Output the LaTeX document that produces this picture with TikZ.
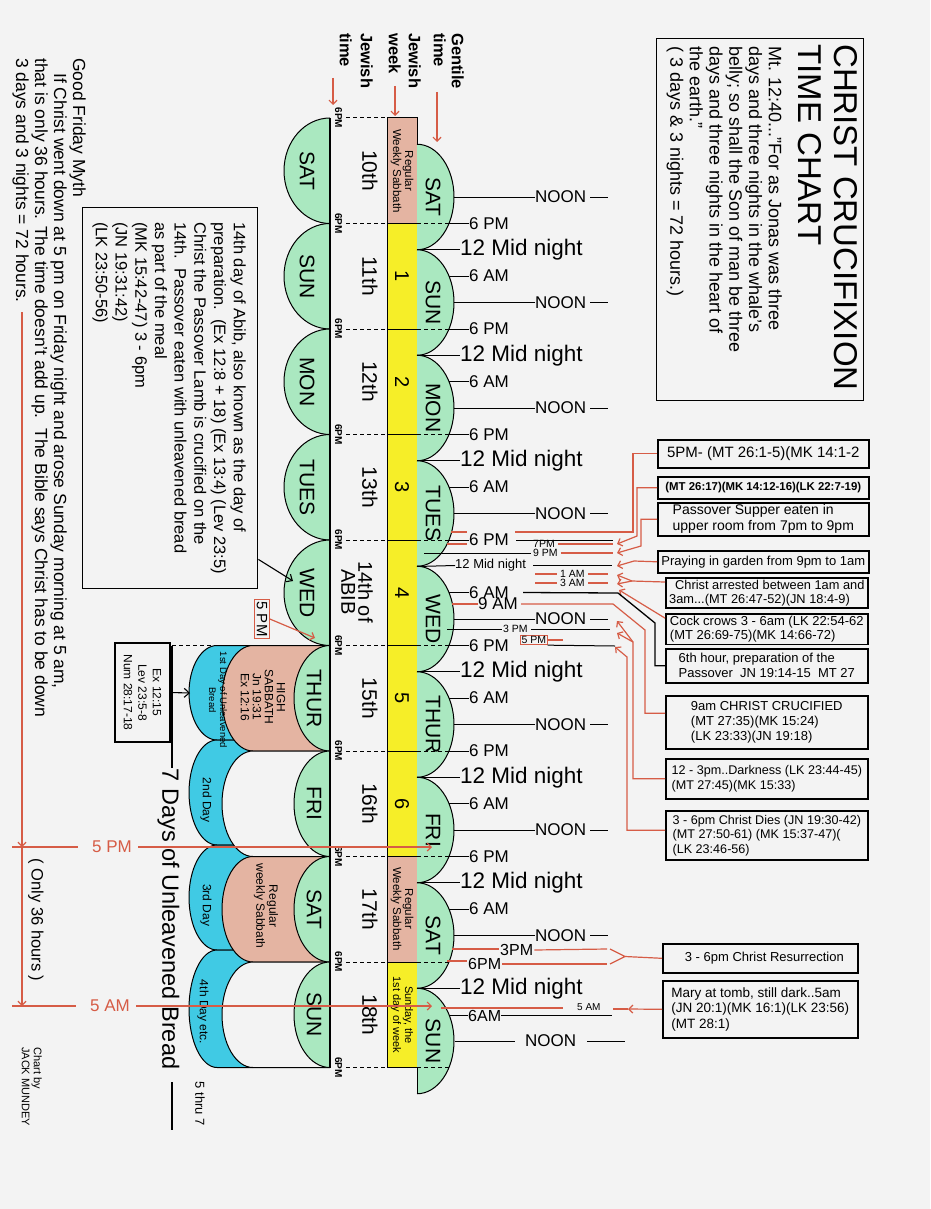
\documentclass[tikz,border=0pt]{standalone}
\usepackage{fontspec}
\setmainfont{Liberation Sans}
\usetikzlibrary{arrows.meta,calc}
\definecolor{bgc}{RGB}{243,243,243}
\definecolor{grn}{RGB}{170,232,192}
\definecolor{pnk}{RGB}{228,180,162}
\definecolor{ylw}{RGB}{246,238,40}
\definecolor{blu}{RGB}{64,202,228}
\definecolor{rd}{RGB}{214,92,70}
\newcommand{\fsz}[2]{\fontsize{#1}{#2}\selectfont}
\tikzset{
  rot/.style={rotate=-90, inner sep=0pt},
  tl/.style={inner sep=0pt, anchor=west},
  edge/.style={line width=1pt},
  rline/.style={draw=rd, line width=1.2pt},
  rarr/.style={rline, -{Straight Barb[length=4pt,width=8pt]}},
  barr/.style={line width=1.1pt, -{Straight Barb[length=5pt,width=9pt]}},
  bx/.style={draw, line width=1.6pt, inner sep=2pt, align=left, anchor=north west},
  dsh/.style={dash pattern=on 4pt off 3pt, line width=1pt},
}
\begin{document}
\begin{tikzpicture}[x=1pt,y=-1pt]
\useasboundingbox (0,0) rectangle (930,1209);
\fill[bgc] (0,0) rectangle (930,1209);

% ---------- title box
\node[draw, line width=1.4pt, minimum width=207pt, minimum height=362pt, anchor=north west, inner sep=0pt] (titlebox) at (656,38) {};
\node[rot, anchor=north west, align=left, font=\fsz{33}{36}] (title) at (858,44) {CHRIST CRUCIFIXION\\TIME CHART};
\node[rot, anchor=north west, align=left, font=\fsz{18}{19.7}] (verse) at (782,46) {Mt. 12:40..."For as Jonas was three\\days and three nights in the whale's\\belly; so shall the Son of man be three\\days and three nights in the heart of\\the earth."\\( 3 days \& 3 nights = 72 hours.)};

% ---------- Good Friday text
\node[rot, anchor=north west, align=left, font=\fsz{17.5}{19}] (myth) at (86,58) {Good Friday Myth\\\hspace*{15pt}If Christ went down at 5 pm on Friday night and arose Sunday morning at 5 am,\\that is only 36 hours. The time doesn't add up.\ \ The Bible says Christ has to be down\\3 days and 3 nights = 72 hours.};

% ---------- 14th of Abib box
\node[draw, line width=1.4pt, anchor=north west, minimum width=175pt, minimum height=381pt, inner sep=0pt] (abibbox) at (82,207) {};
\node[rot, anchor=north west, align=left, font=\fsz{16.5}{19.7}] (abibtxt) at (246,222) {14th day of Abib, also known as the day of\\preparation.\ \ (Ex 12:8 + 18) (Ex 13:4) (Lev 23:5)\\Christ the Passover Lamb is crucified on the\\14th.\ \ Passover eaten with unleavened bread\\as part of the meal\\(MK 15:42-47) 3 - 6pm\\(JN 19:31:42)\\(LK 23:50-56)};

% ---------- top labels
\node[rot, anchor=north west, align=left, font=\bfseries\fsz{16.5}{18}] (gent) at (464,33) {Gentile\\time};
\node[rot, anchor=north west, align=left, font=\bfseries\fsz{16.5}{20}] (jweek) at (421,33) {Jewish\\week};
\node[rot, anchor=north west, align=left, font=\bfseries\fsz{16.5}{21}] (jtime) at (373,33) {Jewish\\time};
\coordinate (ga1) at (437,92); \coordinate (ga2) at (437,142);
\coordinate (wa1) at (395,86); \coordinate (wa2) at (395,116);
\coordinate (ta1) at (333,78); \coordinate (ta2) at (333,105);
\draw[rarr] (ga1) -- (ga2);
\draw[rarr] (wa1) -- (wa2);
\draw[rarr] (ta1) -- (ta2);

% ---------- unleavened bread (blue) shapes
\foreach \a/\b in {645.5/740,740/845,845/950,950/1067.5}{
  \draw[edge, fill=blu] (253,\a) -- (217,\a) arc[start angle=270, end angle=90, x radius=28, y radius={(\b-\a)/2}] -- (253,\b);
}
\foreach \k/\col in {5/pnk,6/bgc,7/pnk,8/bgc}{
  \pgfmathsetmacro\ty{118+105.5*\k}
  \draw[edge, fill=\col] (330,\ty) -- (253,\ty) arc[start angle=270, end angle=90, x radius=31, y radius=52.75] -- (330,\ty+105.5);
}
\node[rot, align=center, font=\fsz{12}{12}] (hisab) at (263,697) {HIGH\\SABBATH\\Jn 19:31\\Ex 12:16};
\node[rot, align=center, font=\fsz{9.5}{11}] (ub1) at (218,700) {1st Day of Unleavened\\Bread};
\node[rot, font=\fsz{12}{12}] (ub2) at (206,800) {2nd Day};
\node[rot, align=center, font=\fsz{12}{13}] (wsab) at (266,906) {Regular\\weekly Sabbath};
\node[rot, font=\fsz{12}{12}] (ub3) at (206,905) {3rd Day};
\node[rot, font=\fsz{12}{12}] (ub4) at (203,1012) {4th Day etc.};

% ---------- Jewish time semicircles
\foreach \k/\nm in {0/SAT,1/SUN,2/MON,3/TUES,4/WED}{
  \draw[edge, fill=grn] (330,{118+105.5*\k}) arc[start angle=270, end angle=90, x radius=46, y radius=52.75];
  \node[rot, font=\fsz{21}{21}] (jd\k) at (307,{170.75+105.5*\k}) {\nm};
}
\foreach \k/\nm in {5/THUR,6/FRI,7/SAT,8/SUN}{
  \draw[edge, fill=grn] (330,{118+105.5*\k}) arc[start angle=270, end angle=90, x radius=36, y radius=52.75];
  \node[rot, font=\fsz{21}{21}] (jd\k) at (314,{170.75+105.5*\k}) {\nm};
}
\draw[line width=1.3pt] (330,118) -- (330,1067.5);
\foreach \k in {0,...,9}{
  \node[rot, font=\bfseries\fsz{10}{10}] (six\k) at (338.5,{118+105.5*\k}) {6PM};
}

% ---------- Jewish week column
\foreach \k/\col in {0/pnk,1/ylw,2/ylw,3/ylw,4/ylw,5/ylw,6/ylw,7/pnk,8/ylw}{
  \pgfmathsetmacro\ty{118+105.5*\k}
  \draw[edge, fill=\col] (387,\ty) rectangle (417,\ty+105.5);
}
\node[rot, align=center, font=\fsz{11.5}{12}] (wk0) at (402,171) {Regular\\Weekly Sabbath};
\foreach \k in {1,...,6}{
  \node[rot, font=\fsz{20}{20}] (wk\k) at (402,{170.75+105.5*\k}) {\k};
}
\node[rot, align=center, font=\fsz{11.5}{12}] (wk7) at (402,909) {Regular\\Weekly Sabbath};
\node[rot, align=center, font=\fsz{11}{12}] (wk8) at (402,1015) {Sunday, the\\1st day of week};

% day numbers
\foreach \k/\nm in {0/10th,1/11th,2/12th,3/13th,5/15th,6/16th,7/17th,8/18th}{
  \node[rot, font=\fsz{21}{21}] (dn\k) at (370,{170.75+105.5*\k}) {\nm};
}
\node[rot, align=center, font=\fsz{20}{17}] (dn4) at (357,592) {14th of\\ABIB};

% ---------- Gentile semicircles
\foreach \i/\nm in {0/SAT,1/SUN,2/MON,3/TUES,4/WED,5/THUR,6/FRI,7/SAT,8/SUN}{
  \draw[edge, fill=grn] (417,{144.25+105.5*\i}) arc[start angle=270, end angle=450, x radius=37, y radius=52.75];
  \node[rot, font=\fsz{21}{21}] (gd\i) at (433,{197+105.5*\i}) {\nm};
}
\draw[edge] (417,1067.5) -- (417,1093.25);

% ---------- dashed day boundaries
\foreach \k in {0,...,9}{
  \draw[dsh] (346,{118+105.5*\k}) -- (387,{118+105.5*\k});
}
\foreach \k in {1,...,9}{
  \draw[dsh] (417,{118+105.5*\k}) -- (449,{118+105.5*\k});
}
\draw[dsh] (172,645.5) -- (330,645.5);

% ---------- right-hand time labels
\foreach \i in {0,...,7}{
  \pgfmathsetmacro\yy{197+105.5*\i}
  \node[tl, font=\fsz{17}{17}] (noon\i) at (535,\yy) {NOON};
  \draw[edge] (454,\yy) -- (noon\i.west);
  \draw[edge] ([xshift=4pt]noon\i.east) -- ([xshift=22pt]noon\i.east);
}
\foreach \i in {0,...,6}{
  \pgfmathsetmacro\yy{197+105.5*\i}
  \node[tl, font=\fsz{17}{17}] (pm\i) at (469,\yy+26.5) {6 PM};
  \draw[edge] (449,\yy+26.5) -- (pm\i.west);
  \node[tl, font=\fsz{17}{17}] (am\i) at (469,\yy+79) {6 AM};
  \draw[edge] (449,\yy+79) -- (am\i.west);
}
\foreach \i in {0,1,2,4,5,6,7}{
  \pgfmathsetmacro\yy{197+105.5*\i}
  \node[tl, font=\fsz{22.5}{22}] (mid\i) at (460,\yy+52.75) {12 Mid night};
  \draw[edge] (417,\yy+52.75) -- (mid\i.west);
}

% TUES night / WED detail
\draw[rline] (451,532) -- (467,532);
\draw[edge] ([xshift=7pt]pm3.east) -- (613,540);
\node[tl, font=\fsz{10.5}{11}] (p7) at (533,544) {7PM};
\draw[rline] (447,544) -- (467,544);
\draw[rline] ([xshift=3pt]p7.east) -- (613,544);
\node[tl, font=\fsz{10.5}{11}] (p9) at (533,553) {9 PM};
\draw[edge] (424,553) -- ([xshift=-2pt]p9.west);
\draw[rline] ([xshift=3pt]p9.east) -- (613,553);
\node[tl, font=\fsz{13}{13}] (mid3) at (455,565.5) {12 Mid night};
\draw[edge] (417,566.5) -- (mid3.west);
\draw[edge] ([xshift=7pt]mid3.east) -- (612,565.5);
\node[tl, font=\fsz{10.5}{11}] (a1) at (560,574) {1 AM};
\draw[rline] (535,574) -- ([xshift=-3pt]a1.west);
\draw[rline] ([xshift=3pt]a1.east) -- (608,574);
\node[tl, font=\fsz{10.5}{11}] (a3) at (560,583) {3 AM};
\draw[rline] (535,583) -- ([xshift=-3pt]a3.west);
\draw[rline] ([xshift=3pt]a3.east) -- (608,583);
\node[tl, font=\fsz{17}{17}] (a9) at (478,604) {9 AM};
\draw[rline] (452,604) -- (a9.west);
\node[tl, font=\fsz{10.5}{11}] (p3) at (503,629) {3 PM};
\draw[edge] (447,629) -- ([xshift=-1pt]p3.west);
\draw[edge] ([xshift=3pt]p3.east) -- (610,629);
\node[tl, draw=rd, line width=1pt, inner sep=1pt, font=\fsz{10.5}{11}] (p5) at (520,640) {5 PM};
\draw[edge] (p5.south east) -- (615,646);
\draw[rline] (p5.east) -- ([xshift=15pt]p5.east);

% SAT / SUN detail
\node[tl, font=\fsz{16}{16}] (s3) at (500,950) {3PM};
\draw[rline] (452,949) -- (499,949);
\draw[rline] ([xshift=1pt]s3.east) -- (607,949);
\node[tl, font=\fsz{16}{16}] (s6) at (468,964) {6PM};
\draw[rline] (447,961) -- (467,961);
\draw[rline] ([xshift=1pt]s6.east) -- (607,964);
\node[tl, font=\fsz{16}{16}] (s6a) at (468,1015.5) {6AM};
\draw[edge] (449,1015.5) -- (s6a.west);
\draw[edge] (s6a.east) -- (612,1015.5);
\draw[rline] (441,1008) -- (563,1008);
\node[tl, font=\fsz{10}{10}] (s5a) at (577,1007) {5 AM};
\node[tl, font=\fsz{17}{17}] (noon8) at (525,1041) {NOON};
\draw[edge] (455,1041) -- ([xshift=-10pt]noon8.west);
\draw[edge] ([xshift=11pt]noon8.east) -- ([xshift=49pt]noon8.east);

% ---------- right boxes
\node[bx, minimum width=211pt, minimum height=28pt, font=\fsz{15}{17}] (bA) at (657,439) {5PM- (MT 26:1-5)(MK 14:1-2};
\node[bx, minimum width=211pt, minimum height=22pt, font=\bfseries\fsz{11.4}{13}] (bB) at (657,476) {(MT 26:17)(MK 14:12-16)(LK 22:7-19)};
\node[bx, minimum width=211pt, minimum height=33pt, font=\fsz{14}{16}] (bC) at (657,502) {Passover Supper eaten in\\upper room from 7pm to 9pm};
\node[bx, minimum width=211pt, minimum height=22pt, font=\fsz{13}{15}] (bD) at (657,550) {Praying in garden from 9pm to 1am};
\node[bx, minimum width=202pt, minimum height=30pt, font=\fsz{12.8}{14.5}] (bE) at (665,577) {\hspace*{6pt}Christ arrested between 1am and\\3am...(MT 26:47-52)(JN 18:4-9)};
\node[bx, minimum width=202pt, minimum height=30pt, font=\fsz{13}{14.5}] (bF) at (665,613) {Cock crows 3 - 6am (LK 22:54-62\\(MT 26:69-75)(MK 14:66-72)};
\node[bx, minimum width=202pt, minimum height=34pt, font=\fsz{13}{15}] (bG) at (665,648) {6th hour, preparation of the\\Passover\ \ JN 19:14-15\ \ MT 27};
\node[bx, minimum width=202pt, minimum height=53pt, font=\fsz{13}{15}] (bH) at (665,695) {9am CHRIST CRUCIFIED\\(MT 27:35)(MK 15:24)\\(LK 23:33)(JN 19:18)};
\node[bx, minimum width=202pt, minimum height=40pt, font=\fsz{12.6}{15}] (bI) at (665,758) {12 - 3pm..Darkness (LK 23:44-45)\\(MT 27:45)(MK 15:33)};
\node[bx, minimum width=202pt, minimum height=49pt, font=\fsz{12.6}{14.5}] (bJ) at (665,810) {3 - 6pm Christ Dies (JN 19:30-42)\\(MT 27:50-61) (MK 15:37-47)(\\(LK 23:46-56)};
\node[bx, minimum width=195pt, minimum height=29pt, font=\fsz{13}{15}] (bK) at (662,943) {\hspace*{8pt}3 - 6pm Christ Resurrection};
\node[bx, minimum width=195pt, minimum height=57pt, font=\fsz{13.5}{15.3}] (bL) at (662,980) {Mary at tomb, still dark..5am\\(JN 20:1)(MK 16:1)(LK 23:56)\\(MT 28:1)};

% ---------- connectors
\coordinate (jA) at (633,532); \coordinate (eA) at (515,532);
\draw[rline] (bA.west) -| (jA) -- (eA);
\coordinate (kB) at (637,536); \coordinate (tB) at (617,544);
\draw[rarr] (bB.west) -| (kB) -- (tB);
\coordinate (kC) at (641,546); \coordinate (tC) at (617,553);
\draw[rarr] (bC.west) -| (kC) -- (tC);
\coordinate (kD) at (634,561); \coordinate (tD) at (617,566);
\draw[rarr] (bD.west) -- (kD) -- (tD);
\coordinate (kE) at (632,581); \coordinate (tE1) at (617,575); \coordinate (tE2) at (617,584);
\draw[rarr] ($(bE.west)+(0,-11)$) -- (kE) -- (tE1);
\draw[rarr] (kE) -- (tE2);
\coordinate (tF) at (619,590);
\draw[rarr] ($(bF.west)+(0,-11)$) -- (tF);
\coordinate (g1) at (618,593); \coordinate (g2) at (655,623);
\draw[line width=1.3pt] ([xshift=14pt]am3.east) -- (g1) -- (g2) |- (bG.west);
\coordinate (h1) at (613,604); \coordinate (h2) at (645,630);
\draw[rline] ([xshift=3pt]a9.east) -- (h1) -- (h2) |- ($(bH.west)+(0,-9)$);
\coordinate (kI) at (633,642); \coordinate (tI) at (617,621); \coordinate (tI2) at (617,633);
\draw[rarr] (bI.west) -| (kI) -- (tI);
\draw[rarr] (kI) -- (tI2);
\coordinate (kJ) at (627,657); \coordinate (tJ) at (615,647);
\draw[rarr] ($(bJ.west)+(0,-5)$) -| (kJ) -- (tJ);
\coordinate (kK) at (625,956.5); \coordinate (cK1) at (610,949); \coordinate (cK2) at (610,964);
\draw[rline] (bK.west) -- (kK);
\draw[rline] (cK1) -- (kK) -- (cK2);
\coordinate (mL) at (628,1009); \coordinate (tL) at (613,1009);
\draw[rarr] (bL.west) -- (mL);
\draw[rline] (mL) -- (tL);

% ---------- left side annotations
\coordinate (wedp) at (293,581);
\draw[barr] ($(abibbox.south east)+(0,-30)$) -- (wedp);
\node[rot, draw=rd, line width=1.2pt, inner sep=2pt, font=\fsz{15}{15}] (pm5box) at (262,619) {5 PM};
\coordinate (wedarr) at (315,638);
\draw[rarr] (pm5box.north) -- (wedarr);
\node[draw, line width=1.4pt, rot, inner sep=4pt, align=center, font=\fsz{12}{14.5}, minimum width=99pt, minimum height=55pt] (exbox) at (142.5,692.5) {Ex 12:15\\Lev 23:5-8\\Num 28:17-18};
\coordinate (exp) at (190,693);
\draw[barr] (exbox.north) -- (exp);
\coordinate (br1) at (172,645.5); \coordinate (br2) at (172,768);
\coordinate (br3) at (172,1082); \coordinate (br4) at (172,1130);
\draw[line width=1.2pt] (br1) -- (br2);
\draw[line width=1.2pt] (br3) -- (br4);
\node[rot, font=\fsz{23.5}{24}] (seven) at (168.5,919) {7 Days of Unleavened Bread};
\node[rot, font=\fsz{13}{13}] (thru) at (200,1104) {5 thru 7};
\node[rot, anchor=north west, align=left, font=\fsz{11}{12}] (chart) at (42,1047) {Chart by\\JACK MUNDEY};
\node[rot, font=\fsz{16.5}{17}] (only) at (36,920) {( Only 36 hours )};

% 5 PM / 5 AM arrows
\node[font=\fsz{17}{17}, text=rd, inner sep=0pt] (l5pm) at (112,847) {5 PM};
\node[font=\fsz{17}{17}, text=rd, inner sep=0pt] (l5am) at (110,1006) {5 AM};
\coordinate (t5pm) at (432,847); \coordinate (t5am) at (432,1006);
\draw[rarr] ([xshift=6pt]l5pm.east) -- (t5pm);
\draw[rarr] ([xshift=6pt]l5am.east) -- (t5am);
\coordinate (h5pm) at (12,847); \coordinate (h5am) at (12,1006);
\draw[rline] (h5pm) -- ([xshift=-14pt]l5pm.west);
\draw[rline] (h5am) -- ([xshift=-14pt]l5am.west);
\coordinate (vtop) at (22,312); \coordinate (v5pm) at (22,847); \coordinate (v5am) at (22,1006);
\draw[rarr] (vtop) -- (v5pm);
\draw[rarr] (v5pm) -- (v5am);
\end{tikzpicture}
\end{document}
